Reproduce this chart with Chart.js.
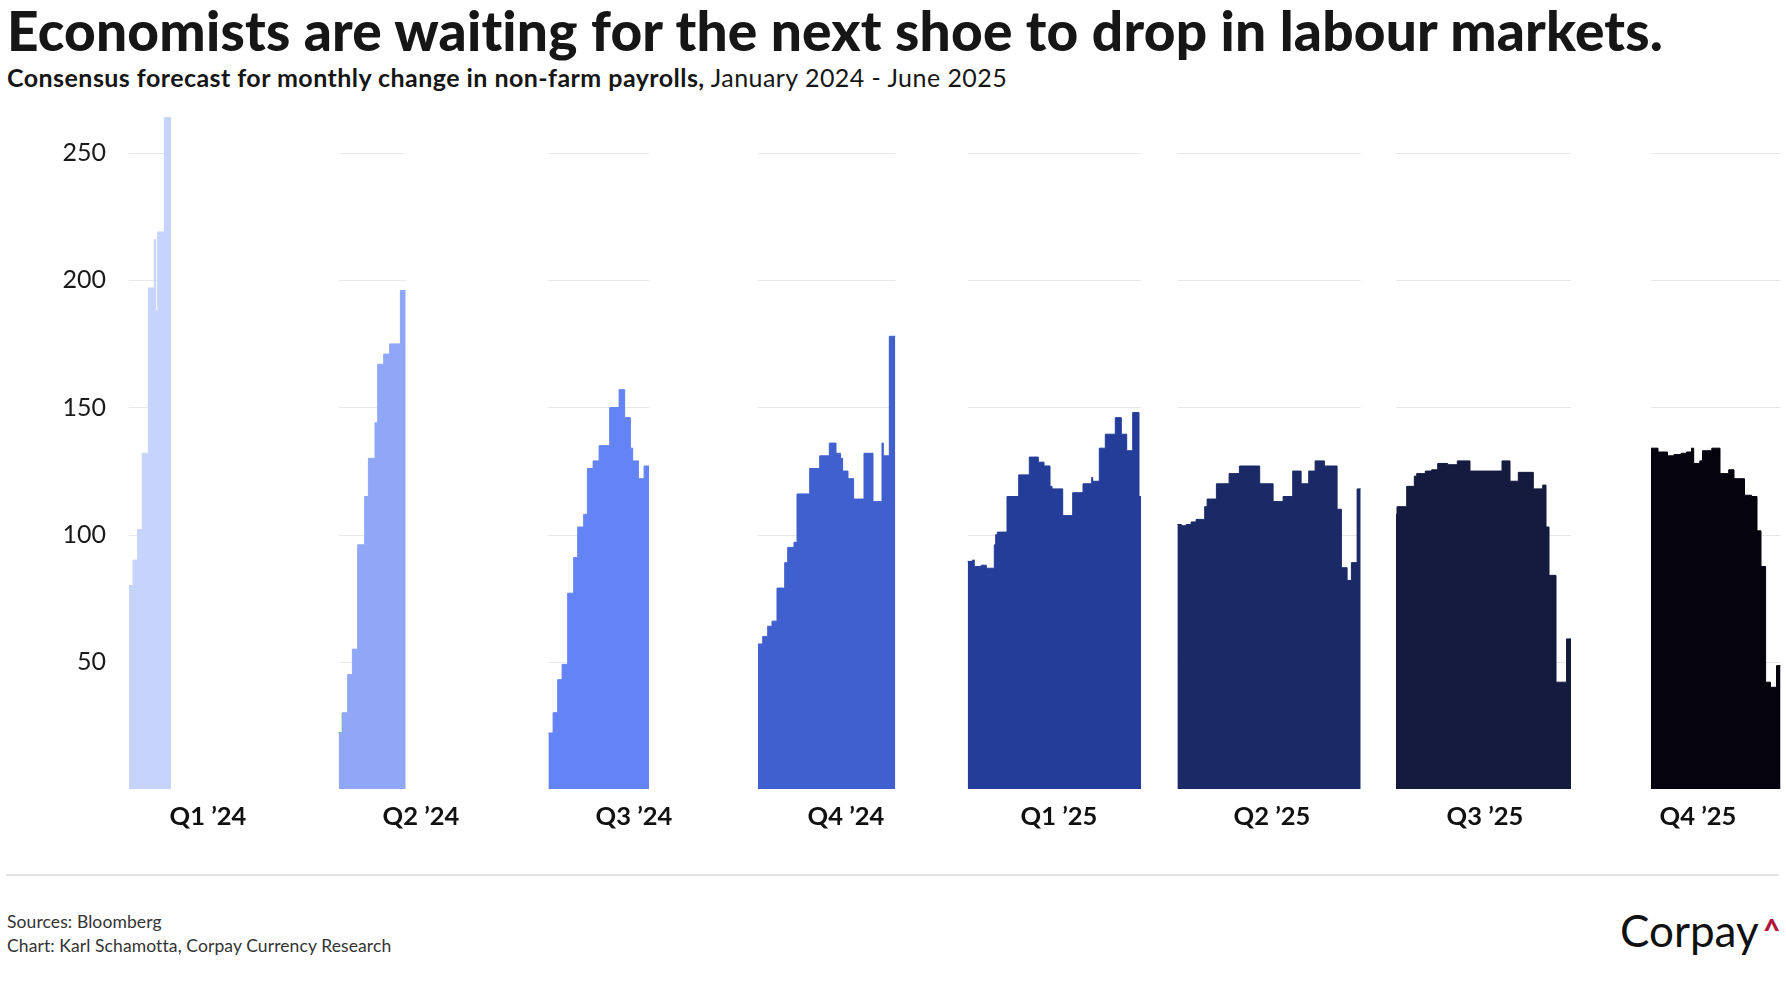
<!DOCTYPE html>
<html>
<head>
<meta charset="utf-8">
<script src="https://cdn.jsdelivr.net/npm/chart.js@4.4.1/dist/chart.umd.min.js"></script>
<style>
  body { margin: 0; width: 1786px; height: 1000px; background: #fff; overflow: hidden; position: relative; font-family: Lato, sans-serif; color: #161616; }
  #title { position: absolute; left: 7px; top: 3px; font-size: 55px; font-weight: 900; line-height: 55px; white-space: nowrap; letter-spacing: 0.2px; }
  #subtitle { position: absolute; left: 7px; top: 65px; font-size: 25px; line-height: 25px; white-space: nowrap; letter-spacing: 0.45px; }
  #subtitle b { font-weight: 700; }
  #chart { position: absolute; left: 0; top: 86px; }
  #rule { position: absolute; left: 6px; top: 874px; width: 1773px; height: 2px; background: #e3e3e3; }
  #source { position: absolute; left: 7px; top: 910px; font-size: 17.5px; line-height: 24px; color: #333; letter-spacing: 0.1px; }
  #logo { position: absolute; left: 1620px; top: 904px; font-size: 44px; line-height: 52px; color: #111; }
  #logo span { position: absolute; left: 143px; top: -1px; font-size: 30px; font-weight: 900; color: #b3153c; }
</style>
</head>
<body>
<div id="title">Economists are waiting for the next shoe to drop in labour markets.</div>
<div id="subtitle"><b>Consensus forecast for monthly change in non-farm payrolls,</b> January 2024 - June 2025</div>
<canvas id="chart" width="1786" height="754"></canvas>
<div id="rule"></div>
<div id="source">Sources: Bloomberg<br>Chart: Karl Schamotta, Corpay Currency Research</div>
<div id="logo">Corpay<span>^</span></div>

<script>
// ------------------------------------------------------------
// Data: forecast steps per quarter (t = time since first forecast, v = payrolls, thousands)
// ------------------------------------------------------------
const quarterLabels = ['Q1 \u201924', 'Q2 \u201924', 'Q3 \u201924', 'Q4 \u201924', 'Q1 \u201925', 'Q2 \u201925', 'Q3 \u201925', 'Q4 \u201925'];
const yTicks = [50, 100, 150, 200, 250];

const q1y24T = [0, 4, 8.7, 13.3, 19.3, 25.3, 26.7, 28.7, 35.3];
const q1y24V = [80, 90, 102, 132, 197, 216, 188, 219, 264];

const q2y24T = [0, 4, 9, 13.7, 19, 26, 29.7, 36.3, 39, 45, 51, 61.7];
const q2y24V = [22, 30, 45, 55, 96, 115, 130, 144, 167, 171, 175, 196];

const q3y24T = [0, 4.7, 9.3, 13.7, 19.3, 25.3, 29.3, 35.3, 39, 44.7, 50.7, 61.3, 70.7, 76.3, 82, 84.3, 90, 95.7];
const q3y24V = [22, 30, 43, 49, 77, 91, 103, 108, 126, 129, 135, 150, 157, 146, 134, 129, 122, 127];

const q4y24T = [0, 4.7, 9.7, 14, 19, 26.7, 29.7, 36, 39, 51.7, 61.7, 71.3, 78, 82.6, 84.6, 90, 95.6, 106, 115, 124, 125.3, 131.3];
const q4y24V = [57, 60, 64, 66, 79, 89, 95, 97, 116, 126, 131, 136, 132, 130, 125, 122, 114, 132, 113, 136, 131, 178];

const q1y25T = [0, 4.7, 6.6, 13.6, 18.6, 26.6, 28, 29.6, 39.3, 51, 61.6, 70.6, 76.3, 82.3, 84.3, 95, 105, 115.3, 124, 125, 131.6, 137.6, 147.6, 153.6, 159, 165, 171.3];
const q1y25V = [89.5, 90, 87.5, 88, 86.8, 96, 100, 101, 115, 123.5, 130.5, 128.5, 127, 119, 118, 107.5, 116.5, 120, 122.5, 121, 134, 139.5, 146, 139.5, 133, 148, 115];

const q2y25T = [0, 4, 8.7, 13.7, 18.7, 27.3, 29.7, 39, 51.7, 62, 82.3, 95.7, 105.7, 115.3, 123.7, 131.3, 137.7, 147, 159.7, 164, 169.7, 174, 179.7];
const q2y25V = [104, 103.5, 104, 105, 106, 111, 114, 120, 124, 127, 120, 113, 115, 125, 120, 125, 129, 127, 110, 87, 82, 89, 118];

const q3y25T = [0, 1, 10.7, 18.3, 20.7, 29.3, 35.7, 41.7, 51.7, 61.3, 74, 85.7, 96.3, 106, 114, 122.3, 137.3, 146.7, 150, 153, 160, 170.5];
const q3y25V = [108, 111, 119, 123, 124, 125, 125.5, 128, 127.5, 129, 125, 125, 125, 129, 121, 124.5, 118, 119.5, 103, 84, 42, 59];

const q4y25T = [0, 7, 16.5, 23, 30, 35.5, 40.5, 42.7, 48.8, 51.5, 60.8, 69, 77.7, 83, 93.5, 100.6, 106, 110, 114.6, 119.5, 125.5];
const q4y25V = [134, 132.5, 131, 131.5, 132, 132.5, 134, 128, 129, 133, 134, 124, 125.5, 122, 115.5, 115, 101.5, 87.5, 42, 40, 48.5];

// ------------------------------------------------------------
// Layout: where each quarter's panel sits on the shared time axis
// ------------------------------------------------------------
const panelStart  = [9, 218.7, 428.4, 638, 847.7, 1057.4, 1276, 1531];
const panelLength = [42, 67, 100.7, 137.3, 173.3, 183.3, 175, 129.5];
const labelAt     = [88, 301, 514, 726, 939, 1152, 1365, 1578];

const PANEL_COLORS = ['#c6d4fb', '#8fa7f6', '#6483f5', '#4060cf', '#233d99', '#1b2a66', '#141b3f', '#05040e'];

const series = [
    [q1y24T, q1y24V], [q2y24T, q2y24V], [q3y24T, q3y24V], [q4y24T, q4y24V],
    [q1y25T, q1y25V], [q2y25T, q2y25V], [q3y25T, q3y25V], [q4y25T, q4y25V]
];

function toPoints(i) {
    const [ts, vs] = series[i];
    const pts = ts.map((t, j) => ({ x: panelStart[i] + t, y: vs[j] }));
    pts.push({ x: panelStart[i] + panelLength[i], y: vs[vs.length - 1] });
    return pts;
}

const datasets = series.map((s, i) => ({
    data: toPoints(i),
    stepped: true,
    fill: 'origin',
    backgroundColor: PANEL_COLORS[i],
    borderColor: PANEL_COLORS[i],
    borderWidth: 1,
    pointRadius: 0
}));

// little green tick on the first Q2 '24 forecasts
datasets.push({
    data: toPoints(1).slice(0, 2),
    stepped: true,
    fill: false,
    borderColor: '#5cc64c',
    borderWidth: 2,
    pointRadius: 0
});

// horizontal gridlines only inside each panel
const panelGrid = {
    id: 'panelGrid',
    beforeDatasetsDraw(chart) {
        const { ctx, scales: { x, y } } = chart;
        ctx.save();
        ctx.strokeStyle = '#e8e8e8';
        ctx.lineWidth = 1;
        panelStart.forEach((s, i) => {
            const x0 = x.getPixelForValue(s);
            const x1 = x.getPixelForValue(s + panelLength[i]);
            yTicks.forEach(v => {
                const py = Math.round(y.getPixelForValue(v)) + 0.5;
                ctx.beginPath();
                ctx.moveTo(x0, py);
                ctx.lineTo(x1, py);
                ctx.stroke();
            });
        });
        ctx.restore();
    }
};

new Chart(document.getElementById('chart'), {
    type: 'line',
    data: { datasets },
    options: {
        responsive: false,
        animation: false,
        layout: { padding: { top: 0, right: 4, bottom: 0, left: 0 } },
        plugins: { legend: { display: false }, tooltip: { enabled: false } },
        scales: {
            x: {
                type: 'linear',
                min: 0,
                max: 1662,
                grid: { display: false, drawTicks: false, tickLength: 0 },
                border: { display: false },
                afterBuildTicks: s => { s.ticks = labelAt.map(v => ({ value: v })); },
                afterFit: s => { s.height = 51; },
                ticks: {
                    autoSkip: false,
                    maxRotation: 0,
                    padding: 12,
                    color: '#111',
                    font: { family: 'Lato', size: 25.5, weight: 'bold' },
                    callback: (v, i) => quarterLabels[i]
                }
            },
            y: {
                min: 0,
                max: 265,
                grid: { display: false, drawTicks: false, tickLength: 0 },
                border: { display: false },
                afterBuildTicks: s => { s.ticks = yTicks.map(v => ({ value: v })); },
                afterFit: s => { s.width = 120; },
                ticks: {
                    padding: 14,
                    color: '#1a1a1a',
                    font: { family: 'Lato', size: 25 }
                }
            }
        }
    },
    plugins: [panelGrid]
});
</script>
</body>
</html>
